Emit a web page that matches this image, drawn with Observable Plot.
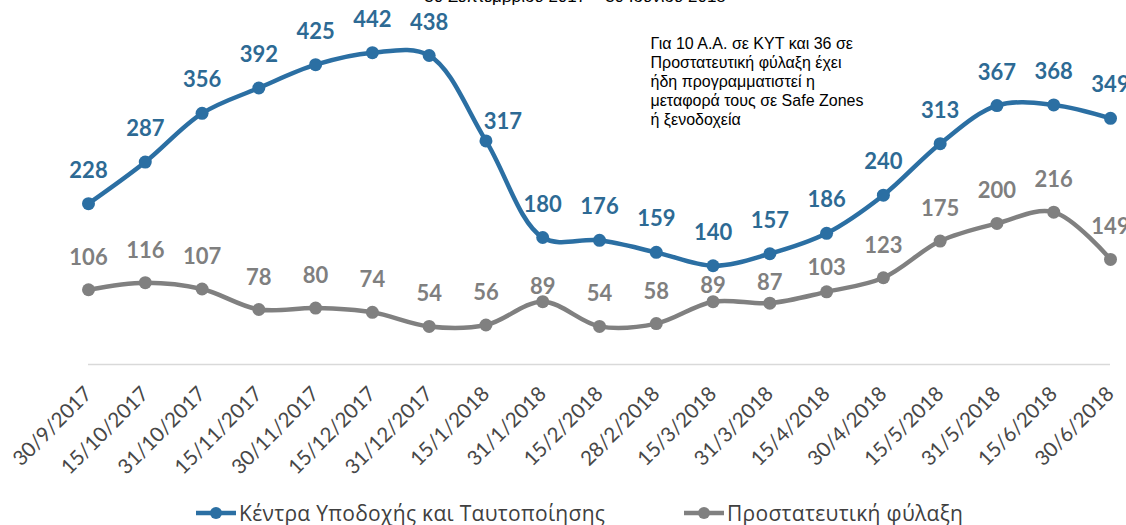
<!DOCTYPE html>
<html><head><meta charset="utf-8">
<script src="https://cdn.jsdelivr.net/npm/d3@7"></script>
<script src="https://cdn.jsdelivr.net/npm/@observablehq/plot@0.6"></script>
<style>
body{margin:0;background:#fff;}
#wrap{position:relative;width:1126px;height:525px;overflow:hidden;}
#title{position:absolute;left:0;width:1150px;top:-12px;line-height:18px;text-align:center;font-size:17px;font-family:"Liberation Sans",Arial,sans-serif;color:#000;white-space:nowrap;}
#chart{position:absolute;left:0;top:0;}
#legend{position:absolute;top:490px;left:0;width:1126px;height:35px;}
.item{position:absolute;top:5px;height:36px;display:flex;align-items:center;font:21px "Open Sans",sans-serif;letter-spacing:0.3px;color:#404040;white-space:nowrap;}
.item svg{margin-right:3px;}
</style></head>
<body>
<div id="wrap">
  <div id="chart"></div>
  <div id="title"></div>
  <div id="legend"></div>
</div>
<script>
const titleText = "30 Σεπτεμβρίου 2017 – 30 Ιουνίου 2018";
const note = "Για 10 Α.Α. σε ΚΥΤ και 36 σε\nΠροστατευτική φύλαξη έχει\nήδη προγραμματιστεί η\nμεταφορά τους σε Safe Zones\nή ξενοδοχεία";
const dates = ["30/9/2017","15/10/2017","31/10/2017","15/11/2017","30/11/2017","15/12/2017","31/12/2017","15/1/2018","31/1/2018","15/2/2018","28/2/2018","15/3/2018","31/3/2018","15/4/2018","30/4/2018","15/5/2018","31/5/2018","15/6/2018","30/6/2018"];
const seriesNames = ["Κέντρα Υποδοχής και Ταυτοποίησης", "Προστατευτική φύλαξη"];
const kyt = [228,287,356,392,425,442,438,317,180,176,159,140,157,186,240,313,367,368,349];
const protective = [106,116,107,78,80,74,54,56,89,54,58,89,87,103,123,175,200,216,149];

// label placement tweaks (presentation only), keyed by date
const kytShift = {"15/1/2018": [17, -19]};
const protShift = {"31/1/2018": [0, -15], "15/3/2018": [0, -16], "31/3/2018": [0, -20], "15/4/2018": [0, -24]};

const blue = "#2b6fa3", blueText = "#2d6a94", grey = "#808080", greyText = "#7f7f7f";

const rowsK = dates.map((d, i) => ({date: d, value: kyt[i]}));
const rowsP = dates.map((d, i) => ({date: d, value: protective[i]}));

function labelMarks(rows, shifts, defShift, fill) {
  const groups = d3.group(rows, r => (shifts[r.date] || defShift).join(","));
  return Array.from(groups, ([key, data]) => {
    const [dx, dy] = key.split(",").map(Number);
    return Plot.text(data, {x: "date", y: "value", text: d => String(d.value), dx, dy,
      fill, fontSize: 22, fontWeight: 700, fontFamily: "Lato"});
  });
}

const chart = Plot.plot({
  width: 1126, height: 490,
  marginLeft: 88, marginRight: 16, marginTop: 0, marginBottom: 126,
  x: {type: "point", domain: dates, padding: 0, round: false, label: null},
  y: {domain: [0, 516], axis: null},
  style: {fontFamily: "Lato", overflow: "visible", background: "transparent"},
  marks: [
    Plot.ruleY([0], {stroke: "#d9d9d9", strokeWidth: 1.5}),
    Plot.axisX({tickRotate: -45, tickSize: 0, tickPadding: 26, fontSize: 20.5, color: "#474747", label: null}),
    Plot.line(rowsP, {x: "date", y: "value", stroke: grey, strokeWidth: 4.5, curve: "catmull-rom"}),
    Plot.dot(rowsP, {x: "date", y: "value", fill: grey, r: 6.5}),
    Plot.line(rowsK, {x: "date", y: "value", stroke: blue, strokeWidth: 4.5, curve: "catmull-rom"}),
    Plot.dot(rowsK, {x: "date", y: "value", fill: blue, r: 6.5}),
    ...labelMarks(rowsK, kytShift, [0, -33], blueText),
    ...labelMarks(rowsP, protShift, [0, -32], greyText),
    Plot.text([note], {frameAnchor: "top-left", dx: 562, dy: 35, lineAnchor: "top", textAnchor: "start",
      lineHeight: 1.19, fontSize: 16, fontFamily: "Liberation Sans", fill: "#000"})
  ]
});
document.getElementById("chart").append(chart);
document.getElementById("title").textContent = titleText;

const legend = document.getElementById("legend");
[[seriesNames[0], blue, 196], [seriesNames[1], grey, 684]].forEach(([name, color, left]) => {
  const item = document.createElement("div");
  item.className = "item";
  item.style.left = left + "px";
  item.innerHTML = `<svg width="40" height="14"><line x1="0" x2="40" y1="7" y2="7" stroke="${color}" stroke-width="4.5"/><circle cx="20" cy="7" r="6" fill="${color}"/></svg><span></span>`;
  item.querySelector("span").textContent = name;
  legend.append(item);
});
</script>
</body></html>
